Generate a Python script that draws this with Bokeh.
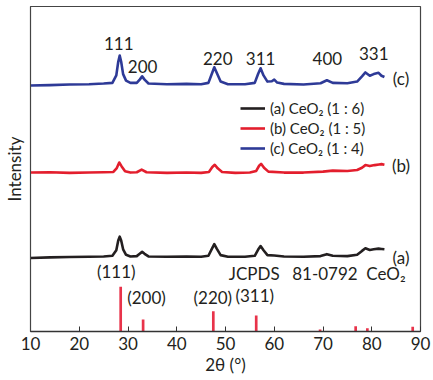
from bokeh.plotting import figure
from bokeh.models import Range1d, FixedTicker, Legend, LegendItem
from bokeh.core.properties import value
from bokeh.embed import file_html
from bokeh.resources import INLINE

# ---- data (curves are vertically offset, arbitrary units) ----
two_theta_c = [10, 14, 18, 22, 25, 26.8, 27.6, 28.0, 28.3, 28.6, 29.0, 29.6, 30.5, 31.8, 32.4, 32.9, 33.4,
               34.2, 38, 42, 45, 46.5, 47.2, 47.7, 48.2, 49, 50.5, 54, 56.0, 56.7, 57.2, 57.8, 58.6, 59.5,
               60.0, 60.6, 62, 66, 69.5, 70.8, 72, 75, 77, 78.0, 78.7, 79.6, 80.4, 81.4, 82.0, 82.6]
curve_c = [75.7, 75.8, 76.0, 76.1, 76.3, 76.5, 78.8, 83.0, 84.9, 83.0, 79.2, 77.2, 76.5, 76.5, 77.5, 78.5, 77.5,
           76.3, 76.1, 76.2, 76.1, 76.5, 79.3, 81.3, 79.6, 76.9, 76.1, 76.1, 76.5, 79.3, 81.0, 78.8, 76.9, 77.0,
           77.5, 76.6, 76.2, 76.0, 76.4, 77.3, 76.5, 76.4, 76.9, 78.5, 79.7, 78.7, 79.2, 79.6, 78.7, 78.3]

two_theta_b = [10, 14, 18, 22, 25, 27.0, 27.7, 28.2, 28.7, 29.4, 30.5, 31.8, 32.8, 33.8, 38, 42, 45, 46.6,
               47.3, 47.8, 48.4, 49.3, 52, 55, 56.3, 56.9, 57.3, 57.9, 58.8, 62, 66, 70, 72, 75, 77, 78.0,
               78.7, 79.6, 80.6, 81.5, 82.0, 82.6]
curve_b = [48.9, 49.0, 48.8, 48.9, 49.0, 49.1, 50.3, 52.0, 50.8, 49.3, 48.9, 49.0, 49.8, 49.0, 48.8, 48.9, 48.8, 49.1,
           50.6, 51.3, 50.2, 49.1, 48.8, 48.9, 49.4, 51.0, 51.6, 50.4, 49.2, 48.9, 48.9, 49.2, 49.5, 49.4, 49.7, 50.4,
           51.2, 50.9, 51.2, 51.4, 51.5, 51.3]

two_theta_a = [10, 14, 18, 22, 25, 26.8, 27.6, 28.0, 28.3, 28.6, 29.0, 29.6, 30.5, 31.8, 32.4, 32.9, 33.4,
               34.2, 38, 42, 45, 46.5, 47.2, 47.7, 48.2, 49, 50.5, 54, 56.0, 56.7, 57.2, 57.8, 58.6, 60,
               62, 66, 69.5, 70.8, 72, 75, 77, 78.0, 78.7, 79.6, 80.4, 81.4, 82.0, 82.6]
curve_a = [22.6, 22.8, 22.9, 23.0, 23.1, 23.3, 25.0, 28.0, 29.2, 28.0, 25.3, 23.6, 23.1, 23.2, 23.9, 24.5, 23.9,
           23.1, 23.0, 23.1, 23.0, 23.3, 25.4, 26.9, 25.5, 23.5, 23.0, 23.0, 23.3, 25.2, 26.3, 25.0, 23.5, 23.4,
           23.1, 23.0, 23.2, 23.8, 23.3, 23.2, 23.6, 24.8, 25.6, 25.1, 25.3, 25.5, 25.4, 25.3]

# JCPDS 81-0792 CeO2 reference lines
ref_pos = [28.5, 33.1, 47.5, 56.3, 69.4, 76.7, 79.1, 88.4]
ref_int = [13.8, 3.7, 6.2, 4.9, 0.6, 1.6, 1.0, 1.5]

series_names = ["(a) CeO\u2082 (1 : 6)", "(b) CeO\u2082 (1 : 5)", "(c) CeO\u2082 (1 : 4)"]
series_tags = ["(a)", "(b)", "(c)"]
hkl_labels = ["111", "200", "220", "311", "400", "331"]
ref_hkl_labels = ["(111)", "(200)", "(220)", "(311)"]
x_ticks = [10, 20, 30, 40, 50, 60, 70, 80, 90]

FONT = "Lato"
BLACK = "#231f20"
RED = "#e31e2d"
BLUE = "#2e3a97"
REF_RED = "#e8334a"

p = figure(frame_width=390, frame_height=325, x_range=Range1d(10, 90), y_range=Range1d(0, 100),
           output_backend="svg", toolbar_location=None,
           min_border_left=0, min_border_right=12, min_border_top=6, min_border_bottom=0)
p.grid.visible = False
p.outline_line_color = "#444444"
p.outline_line_width = 1.2

# x axis
p.xaxis.ticker = FixedTicker(ticks=x_ticks)
p.xaxis.major_tick_in = 5
p.xaxis.major_tick_out = 0
p.xaxis.minor_tick_line_color = None
p.xaxis.axis_line_color = "#333333"
p.xaxis.axis_line_width = 1.5
p.xaxis.major_tick_line_color = "#333333"
p.xaxis.major_label_text_font = FONT
p.xaxis.major_label_text_font_size = "17px"
p.xaxis.major_label_text_color = BLACK
p.xaxis.major_label_standoff = 5
p.xaxis.axis_label = "2\u03b8 (\u00b0)"
p.xaxis.axis_label_text_font = FONT
p.xaxis.axis_label_text_font_size = "17px"
p.xaxis.axis_label_text_font_style = "normal"
p.xaxis.axis_label_text_color = BLACK
p.xaxis.axis_label_standoff = 1

# y axis (label only)
p.yaxis.major_tick_line_color = None
p.yaxis.minor_tick_line_color = None
p.yaxis.major_label_text_font_size = "0px"
p.yaxis.major_label_standoff = 0
p.yaxis.axis_line_color = "#444444"
p.yaxis.axis_label = "Intensity"
p.yaxis.axis_label_text_font = FONT
p.yaxis.axis_label_text_font_size = "17px"
p.yaxis.axis_label_text_font_style = "normal"
p.yaxis.axis_label_text_color = BLACK
p.yaxis.axis_label_standoff = 0

ra = p.line(two_theta_a, curve_a, line_color=BLACK, line_width=2.6, line_join="round")
rb = p.line(two_theta_b, curve_b, line_color=RED, line_width=2.6, line_join="round")
rc = p.line(two_theta_c, curve_c, line_color=BLUE, line_width=2.6, line_join="round")

p.vbar(x=ref_pos, top=ref_int, bottom=0, width=0.55, fill_color=REF_RED, line_color=None)

txt = dict(text_font=value(FONT), text_font_size="17px", text_color=BLACK,
           text_align="center", text_baseline="middle")
# series tags
p.text(x=[86.0, 86.0, 86.0], y=[22.8, 51.0, 77.8], text=series_tags, **txt)
# peak hkl labels
p.text(x=[28.1, 33.0, 48.4, 57.2, 70.9, 80.4], y=[88.6, 81.5, 84.0, 84.0, 84.0, 85.5], text=hkl_labels, **txt)
# reference labels
p.text(x=[27.6, 33.8, 47.4, 56.0], y=[18.5, 10.5, 10.5, 11.1], text=ref_hkl_labels, **txt)
p.text(x=[55.9, 70.4, 82.9], y=[17.8, 17.8, 17.8], text=["JCPDS", "81-0792", "CeO\u2082"], **txt)

legend = Legend(items=[LegendItem(label=series_names[0], renderers=[ra]),
                       LegendItem(label=series_names[1], renderers=[rb]),
                       LegendItem(label=series_names[2], renderers=[rc])],
                location=(210, 173))
legend.background_fill_alpha = 0
legend.border_line_color = None
legend.label_text_font = FONT
legend.label_text_font_size = "15px"
legend.label_text_color = BLACK
legend.glyph_width = 25
legend.glyph_height = 20
legend.label_height = 20
legend.label_standoff = 5
legend.spacing = 0
legend.padding = 0
legend.margin = 0
p.add_layout(legend, "center")

open("out.html", "w").write(file_html(p, INLINE))
